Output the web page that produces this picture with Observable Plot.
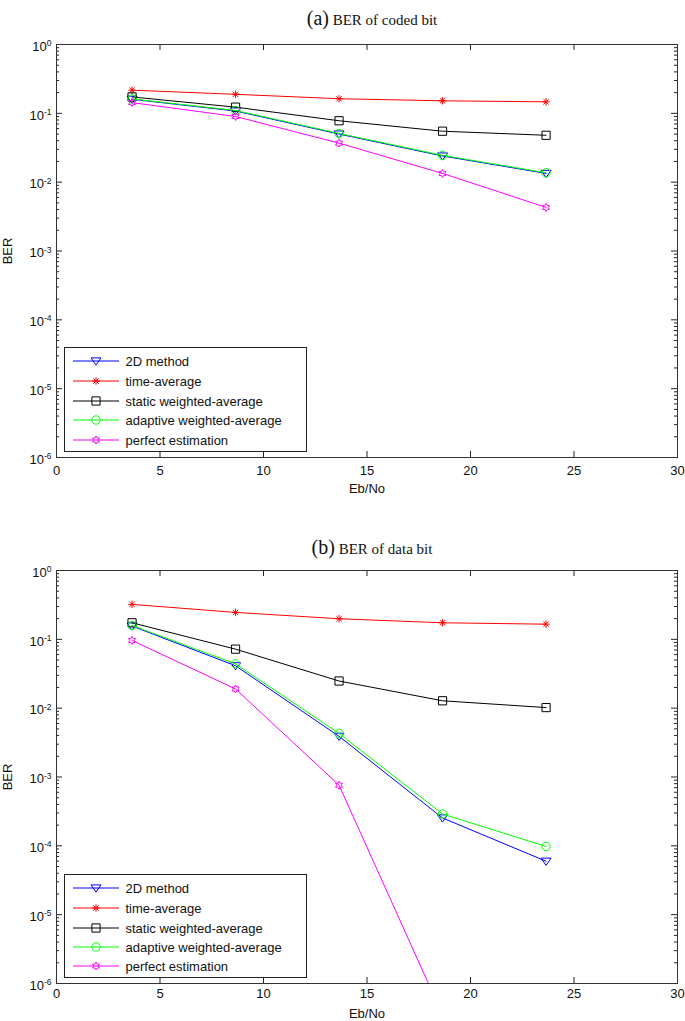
<!DOCTYPE html>
<html><head><meta charset="utf-8">
<script src="https://cdn.jsdelivr.net/npm/d3@7"></script>
<script src="https://cdn.jsdelivr.net/npm/@observablehq/plot@0.6"></script>
<style>
body{margin:0;background:#fff;}
#root{position:relative;width:685px;height:1021px;overflow:hidden;background:#fff;}
#root > svg{position:absolute;left:0;}
</style></head><body><div id="root"></div>
<script>
// ---------- data ----------
const ebno = [3.65, 8.65, 13.65, 18.65, 23.65];
const seriesNames = ["2D method", "time-average", "static weighted-average", "adaptive weighted-average", "perfect estimation"];
const seriesColors = ["#0000ff", "#ff0000", "#000000", "#00ff00", "#ff00ff"];
// (a) BER of coded bit
const coded2D       = [0.160, 0.108, 0.050, 0.0240, 0.0134];
const codedTime     = [0.217, 0.189, 0.163, 0.152, 0.147];
const codedStatic   = [0.173, 0.123, 0.078, 0.055, 0.048];
const codedAdaptive = [0.162, 0.110, 0.051, 0.0245, 0.0137];
const codedPerfect  = [0.143, 0.090, 0.0369, 0.0134, 0.0043];
// (b) BER of data bit
const data2D        = [0.156, 0.0413, 0.0039, 0.000254, 0.0000597];
const dataTime      = [0.322, 0.246, 0.199, 0.174, 0.166];
const dataStatic    = [0.174, 0.072, 0.0248, 0.0128, 0.0102];
const dataAdaptive  = [0.159, 0.044, 0.0043, 0.00029, 0.000098];
const dataPerfect   = [0.0964, 0.019, 0.00076, 0.00000035, null];
// ticks
const xTicks = [0, 5, 10, 15, 20, 25, 30];
const yTicks = [1e-6, 1e-5, 1e-4, 1e-3, 1e-2, 1e-1, 1];
const yMinorTicks = [];
for (let k = -6; k < 0; k++) for (let m = 2; m <= 9; m++) yMinorTicks.push(m * Math.pow(10, k));

// ---------- marker symbols (MATLAB-like) ----------
const R = s => Math.sqrt(s / Math.PI);
const symTriDown = {draw(c, s) { const r = R(s); c.moveTo(-r, -0.62 * r); c.lineTo(r, -0.62 * r); c.lineTo(0, 0.82 * r); c.closePath(); }};
const symAsterisk = {draw(c, s) { const r = R(s) * 0.75, d = r * 0.707;
  c.moveTo(-r, 0); c.lineTo(r, 0); c.moveTo(0, -r); c.lineTo(0, r);
  c.moveTo(-d, -d); c.lineTo(d, d); c.moveTo(-d, d); c.lineTo(d, -d); }};
const symSquare = {draw(c, s) { const h = R(s) * 0.82; c.rect(-h, -h, 2 * h, 2 * h); }};
const symCircle = {draw(c, s) { const r = R(s) * 0.84; c.moveTo(r, 0); c.arc(0, 0, r, 0, 2 * Math.PI); c.closePath(); }};
const symHexagram = {draw(c, s) { const ro = R(s) * 0.8, ri = ro / Math.sqrt(3);
  for (let i = 0; i < 12; i++) { const a = -Math.PI / 2 + i * Math.PI / 6, rr = i % 2 ? ri : ro;
    const px = rr * Math.cos(a), py = rr * Math.sin(a); if (i) c.lineTo(px, py); else c.moveTo(px, py); }
  c.closePath(); }};
const seriesSymbols = [symTriDown, symAsterisk, symSquare, symCircle, symHexagram];
const MR = 5;

// ---------- layout ----------
const W = 685, ML = 56, MR_ = 8;
const plotW = W - ML - MR_;
const FONT = "'Liberation Sans', Arial, Helvetica, sans-serif";
const SERIF = "'Liberation Serif', 'Times New Roman', serif";

function makePanel(seriesVals, cfg) {
  const plotH = cfg.height - cfg.mt - cfg.mb;
  const marks = [];
  // ticks inside the frame (MATLAB style)
  marks.push(Plot.tickY(yTicks, {y: d => d, insetRight: plotW - 6, stroke: "#222"}));
  marks.push(Plot.tickY(yTicks, {y: d => d, insetLeft: plotW - 6, stroke: "#222"}));
  marks.push(Plot.tickY(yMinorTicks, {y: d => d, insetRight: plotW - 3, stroke: "#222"}));
  marks.push(Plot.tickY(yMinorTicks, {y: d => d, insetLeft: plotW - 3, stroke: "#222"}));
  marks.push(Plot.tickX(xTicks, {x: d => d, insetTop: plotH - 6, stroke: "#222"}));
  marks.push(Plot.tickX(xTicks, {x: d => d, insetBottom: plotH - 6, stroke: "#222"}));
  seriesVals.forEach((ys, i) => {
    const d = ebno.map((x, j) => ({x, y: ys[j]})).filter(p => p.y != null && p.y > 0);
    marks.push(Plot.line(d, {x: "x", y: "y", stroke: seriesColors[i], strokeWidth: 1, clip: true}));
    marks.push(Plot.dot(d, {x: "x", y: "y", stroke: seriesColors[i], symbol: seriesSymbols[i], r: MR, fill: "none", strokeWidth: 1, clip: true}));
  });
  marks.push(Plot.axisX(xTicks, {anchor: "bottom", tickSize: 0, tickPadding: cfg.xpad, label: "Eb/No",
    labelAnchor: "center", labelArrow: "none", labelOffset: cfg.xlabOff, fontSize: 13}));
  marks.push(Plot.axisY(yTicks, {anchor: "left", tickSize: 0, tickPadding: 5, dy: 2,
    tickFormat: d => String(Math.round(Math.log10(d))).replace("\u2212", "-"),
    label: "BER", labelAnchor: "center", labelArrow: "none", labelOffset: 54, fontSize: 13}));
  marks.push(Plot.frame({stroke: "#333", strokeWidth: 1}));
  const svg = Plot.plot({
    width: W, height: cfg.height,
    marginLeft: ML, marginRight: MR_, marginTop: cfg.mt, marginBottom: cfg.mb,
    x: {domain: [0, 30]},
    y: {type: "log", domain: [1e-6, 1]},
    style: {fontFamily: FONT, fontSize: "13px", color: "#111", background: "transparent", overflow: "visible"},
    marks
  });
  svg.style.top = cfg.top + "px";
  // superscript exponents on the y tick labels
  svg.querySelectorAll('g[aria-label="y-axis tick label"] text').forEach(t => {
    const e = t.textContent.replace("\u2212", "-");
    t.textContent = "";
    t.appendChild(document.createTextNode("10"));
    const ts = document.createElementNS("http://www.w3.org/2000/svg", "tspan");
    ts.setAttribute("dy", "-0.55em");
    ts.setAttribute("font-size", "8.5px");
    ts.textContent = e;
    t.appendChild(ts);
  });
  return svg;
}

const root = document.getElementById("root");
root.appendChild(makePanel([coded2D, codedTime, codedStatic, codedAdaptive, codedPerfect],
  {top: 0, height: 510, mt: 44, mb: 53, xpad: 8, xlabOff: 35}));
root.appendChild(makePanel([data2D, dataTime, dataStatic, dataAdaptive, dataPerfect],
  {top: 520, height: 501, mt: 50, mb: 38, xpad: 5, xlabOff: 34}));

// ---------- overlay: titles and legends ----------
const ov = d3.create("svg").attr("width", W).attr("height", 1021).style("top", "0px").style("pointer-events", "none");
function title(y, tag, text) {
  const t = ov.append("text").attr("x", 372).attr("y", y).attr("text-anchor", "middle")
    .attr("font-family", SERIF).attr("fill", "#111");
  t.append("tspan").attr("font-size", 20).text(tag);
  t.append("tspan").attr("font-size", 15).text(" " + text);
}
title(24.5, "(a)", "BER of coded bit");
title(554, "(b)", "BER of data bit");

function legend(x0, y0, x1, y1, rowY) {
  const g = ov.append("g");
  g.append("rect").attr("x", x0 + 0.5).attr("y", y0 + 0.5).attr("width", x1 - x0).attr("height", y1 - y0)
    .attr("fill", "#fff").attr("stroke", "#222");
  seriesNames.forEach((name, i) => {
    const y = rowY[i];
    g.append("line").attr("x1", 73).attr("x2", 119).attr("y1", y).attr("y2", y)
      .attr("stroke", seriesColors[i]).attr("stroke-width", 1);
    g.append("path").attr("d", d3.symbol(seriesSymbols[i], Math.PI * MR * MR)())
      .attr("transform", `translate(96,${y})`).attr("fill", "none").attr("stroke", seriesColors[i]);
    g.append("text").attr("x", 125.5).attr("y", y + 4.6).attr("font-family", FONT).attr("font-size", 13)
      .attr("fill", "#111").text(name);
  });
}
legend(64, 347, 306, 451, [361, 381, 401, 420, 440]);
legend(64, 874, 306, 977, [888, 908, 928, 947, 966]);
root.appendChild(ov.node());
</script></body></html>
